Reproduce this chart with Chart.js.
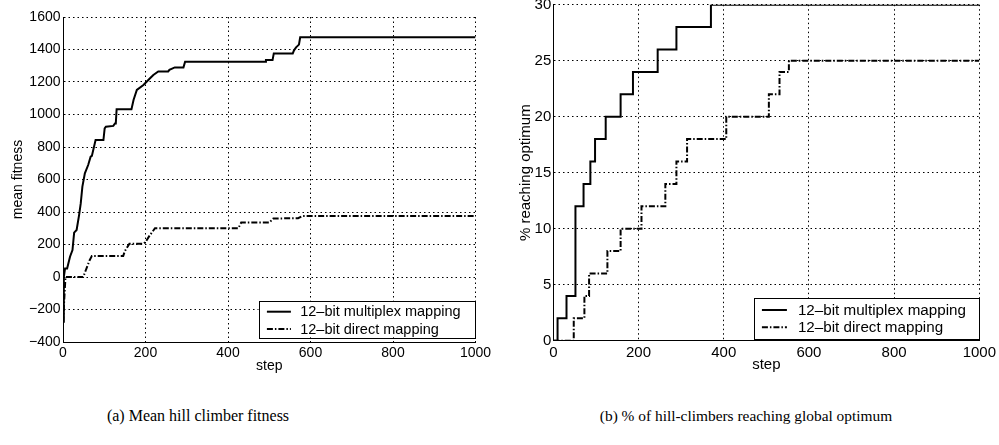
<!DOCTYPE html>
<html>
<head>
<meta charset="utf-8">
<script src="https://cdn.jsdelivr.net/npm/chart.js@4.4.1/dist/chart.umd.min.js"></script>
<style>
  html, body { margin: 0; padding: 0; background: #fff; width: 999px; height: 445px; overflow: hidden; position: relative; }
  .box { position: absolute; }
  .cap { position: absolute; top: 407px; font: 16px "Liberation Serif", serif; color: #000; white-space: nowrap; transform: translateX(-50%); }
</style>
</head>
<body>
<div class="box" style="left:0;top:0;width:495px;height:380px"><canvas id="fitChart"></canvas></div>
<div class="box" style="left:500px;top:-10px;width:499px;height:390px"><canvas id="pctChart"></canvas></div>
<div class="cap" style="left:198px">(a) Mean hill climber fitness</div>
<div class="cap" style="left:746px;font-size:15.4px">(b) % of hill-climbers reaching global optimum</div>
<script>
// ── Data (a): mean fitness ───────────────────────────────────────────────────
const muxFitSteps  = [0, 2, 5, 10, 17, 23, 27, 33, 39, 43, 47, 53, 61, 67, 70, 79, 98, 101, 104, 122,
                      126, 128, 130, 166, 171, 179, 195, 211, 219, 231, 255, 258, 271, 292, 296, 490, 492, 508, 511, 557,
                      560, 565, 572, 575, 1000];
const muxFitValues = [-275, 0, 53, 53, 125, 166, 273, 289, 381, 453, 556, 638, 689, 740, 745, 843, 843, 915, 925, 930,
                      945, 945, 1032, 1032, 1089, 1151, 1182, 1223, 1243, 1265, 1265, 1275, 1290, 1290, 1325, 1325, 1335, 1335, 1376, 1376,
                      1395, 1413, 1430, 1475, 1475];
const dirFitSteps  = [0, 6, 49, 55, 64, 70, 146, 150, 161, 195, 200, 210, 223, 425, 432, 500, 510, 570, 580, 1000];
const dirFitValues = [-280, 0, 0, 40, 100, 130, 130, 160, 205, 205, 215, 255, 300, 300, 335, 335, 360, 362, 375, 375];

// ── Data (b): % reaching optimum (value changes at given step) ──────────────
const muxPctSteps  = [0, 10, 31, 52, 71, 87, 98, 123, 158, 187, 245, 289, 370, 1000];
const muxPctValues = [0, 2, 4, 12, 14, 16, 18, 20, 22, 24, 26, 28, 30, 30];
const dirPctSteps  = [0, 48, 73, 84, 127, 158, 207, 263, 289, 314, 406, 506, 531, 553, 1000];
const dirPctValues = [0, 2, 4, 6, 8, 10, 12, 14, 16, 18, 20, 22, 24, 25, 25];

const seriesNames = ['12\u2013bit multiplex mapping', '12\u2013bit direct mapping'];

// ── Helpers ─────────────────────────────────────────────────────────────────
const pts = (xs, ys) => xs.map((x, i) => ({ x, y: ys[i] }));
const DASHDOT = [6, 2, 1.5, 2];

function makeSet(label, data, dash, stepped) {
  return { label, data, borderColor: '#000', borderWidth: 2, borderDash: dash,
           pointRadius: 0, fill: false, tension: 0, stepped };
}

// legend box drawn inside the plot area
const insideLegend = {
  id: 'insideLegend',
  afterDraw(chart, args, o) {
    const { ctx, chartArea: ca } = chart;
    const x0 = ca.right - o.w, y0 = ca.bottom - o.gap - o.h;
    ctx.save();
    ctx.fillStyle = '#fff';
    ctx.fillRect(x0, y0, o.w, o.h);
    ctx.strokeStyle = '#000';
    ctx.lineWidth = 1;
    ctx.strokeRect(Math.round(x0) + 0.5, Math.round(y0) + 0.5, Math.round(o.w) - 1, Math.round(o.h));
    ctx.font = o.font + 'px "Liberation Sans", Arial, sans-serif';
    ctx.textBaseline = 'middle';
    ctx.fillStyle = '#000';
    chart.data.datasets.forEach((ds, i) => {
      const y = y0 + o.rows[i];
      ctx.beginPath();
      ctx.setLineDash(ds.borderDash || []);
      ctx.lineWidth = 2;
      ctx.moveTo(x0 + o.lineIn, y);
      ctx.lineTo(x0 + o.lineIn + o.lineLen, y);
      ctx.stroke();
      ctx.setLineDash([]);
      ctx.fillText(ds.label, x0 + o.textIn, y + 0.5);
    });
    ctx.restore();
  }
};

const plain = v => String(v).replace('-', '\u2212');

function makeChart(id, datasets, cfg) {
  const font = { family: '"Liberation Sans", Arial, sans-serif', size: cfg.fontSize, lineHeight: 1.2 };
  return new Chart(document.getElementById(id), {
    type: 'line',
    data: { datasets },
    plugins: [insideLegend],
    options: {
      animation: false,
      responsive: true,
      maintainAspectRatio: false,
      layout: { padding: cfg.padding },
      plugins: { legend: { display: false }, tooltip: { enabled: false }, insideLegend: cfg.legend },
      scales: {
        x: {
          type: 'linear', min: 0, max: 1000,
          ticks: { stepSize: 200, color: '#000', font, padding: 3, maxRotation: 0, callback: plain },
          grid: { color: '#000', lineWidth: 1, drawTicks: false },
          border: { display: true, color: '#000', width: 1, dash: [1.5, 3] },
          title: { display: true, text: 'step', color: '#000', font, padding: { top: 0, bottom: cfg.xTitlePad } },
          afterFit: s => { s.height = cfg.xHeight; }
        },
        y: {
          type: 'linear', min: cfg.yMin, max: cfg.yMax,
          ticks: { stepSize: cfg.yStep, color: '#000', font, padding: cfg.yTickPad, callback: plain },
          grid: { color: '#000', lineWidth: 1, drawTicks: false },
          border: { display: true, color: '#000', width: 1, dash: [1.5, 3] },
          title: { display: true, text: cfg.yTitle, color: '#000', font, padding: { top: cfg.yTitlePad, bottom: 0 } },
          afterFit: s => { s.width = cfg.yWidth; }
        }
      }
    }
  });
}

// ── Charts ──────────────────────────────────────────────────────────────────
makeChart('fitChart', [
  makeSet(seriesNames[0], pts(muxFitSteps, muxFitValues), [], false),
  makeSet(seriesNames[1], pts(dirFitSteps, dirFitValues), DASHDOT, false)
], {
  fontSize: 14, padding: { top: 17, right: 19.5, left: 0, bottom: 0 },
  xHeight: 38, yWidth: 63, xTitlePad: 5, yTitlePad: 10, yTickPad: 2.5,
  yMin: -400, yMax: 1600, yStep: 200, yTitle: 'mean fitness',
  legend: { w: 217, h: 36.6, gap: 4.7, lineIn: 8.4, lineLen: 24, textIn: 41.7, rows: [11, 28.3], font: 14.5 }
});

makeChart('pctChart', [
  makeSet(seriesNames[0], pts(muxPctSteps, muxPctValues), [], 'before'),
  makeSet(seriesNames[1], pts(dirPctSteps, dirPctValues), DASHDOT, 'before')
], {
  fontSize: 15, padding: { top: 14.7, right: 18.3, left: 0, bottom: 0 },
  xHeight: 39.3, yWidth: 53.3, xTitlePad: 6, yTitlePad: 16.6, yTickPad: 2,
  yMin: 0, yMax: 30, yStep: 5, yTitle: '% reaching optimum',
  legend: { w: 225.7, h: 41, gap: 1.4, lineIn: 8.3, lineLen: 25, textIn: 44.3, rows: [11.7, 29], font: 15.2 }
});
</script>
</body>
</html>
